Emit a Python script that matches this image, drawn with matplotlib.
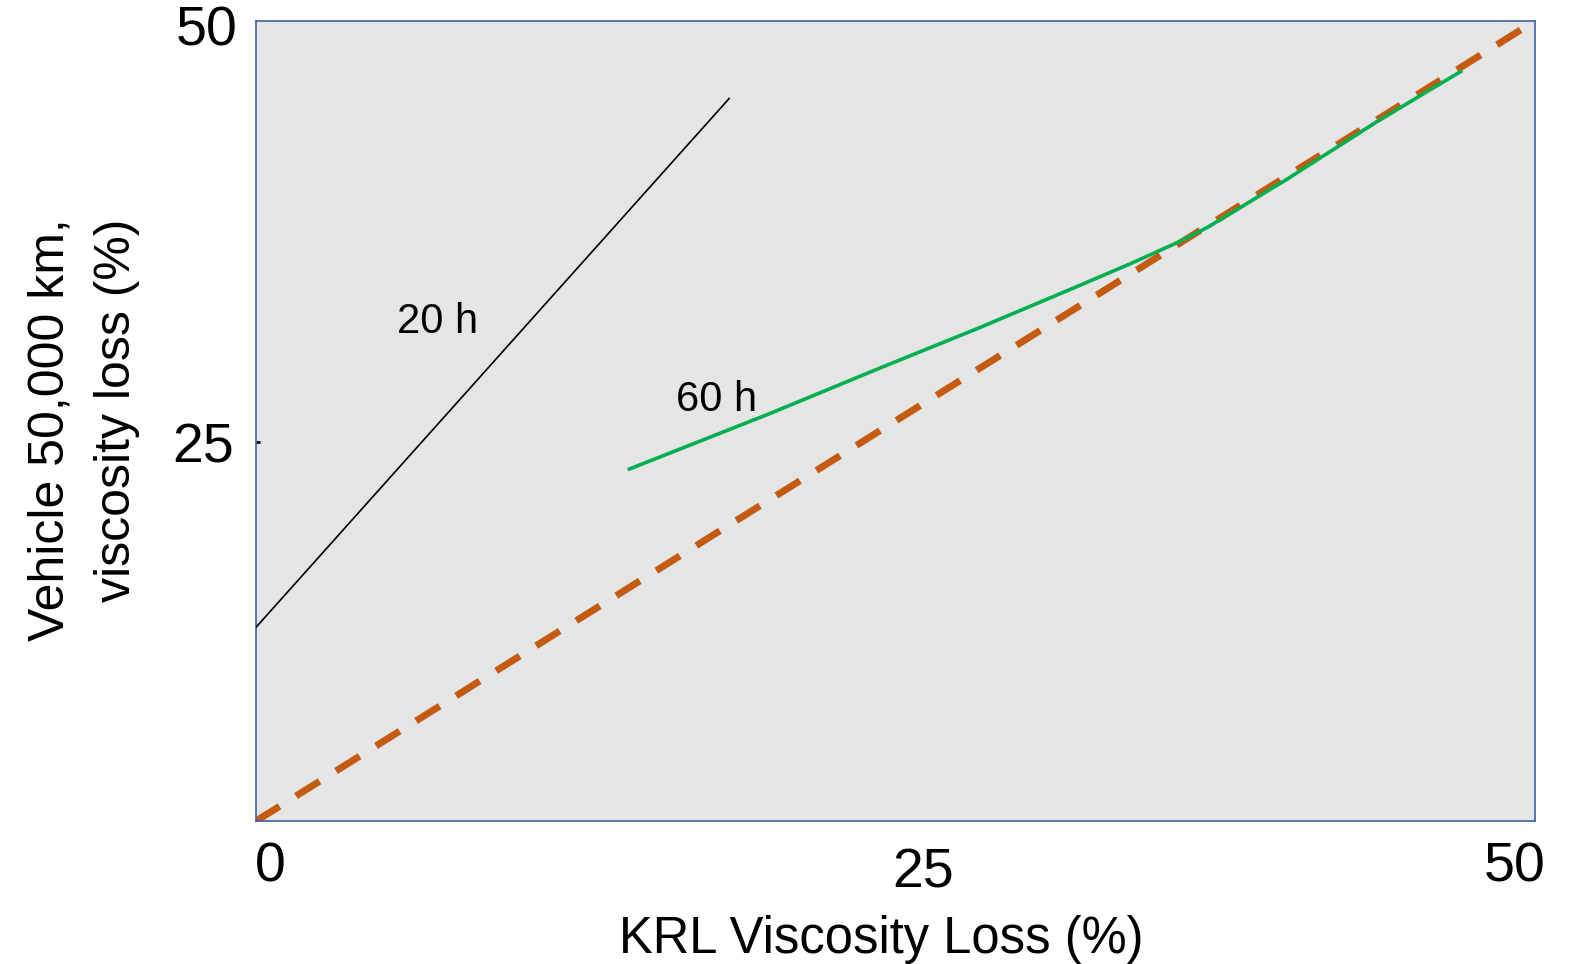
import numpy as np
import matplotlib
matplotlib.use("Agg")
import matplotlib.pyplot as plt
from matplotlib.transforms import ScaledTranslation

plt.rcParams['font.family'] = ['Liberation Sans', 'DejaVu Sans']

# data
line20_x = [0.0, 18.5]
line20_y = [14.0, 45.4]

line60_x = [14.6, 20.1, 24.4, 28.3, 32.2, 34.2, 36.1, 37.2, 38.4, 40.3, 43.9, 47.1]
line60_y = [23.4, 26.7, 29.4, 31.8, 34.3, 35.6, 36.9, 37.75, 38.85, 40.6, 44.1, 47.0]

ref_x = [0.0, 50.0]
ref_y = [2.5, 50.0]

xticks = [0, 25, 50]
yticks = [25, 50]
tick_labels_x = ['0', '25', '50']
tick_labels_y = ['25', '50']

fig = plt.figure(figsize=(15.78, 9.64), dpi=100)
ax = fig.add_axes([0.1622, 0.1483, 0.8105, 0.8299])
ax.set_facecolor('#E5E5E5')

ax.plot(ref_x, ref_y, color='#C55A11', lw=5, linestyle=(0, (4, 2.8)),
        dash_capstyle='butt', zorder=2)
ax.plot(line20_x, line20_y, color='black', lw=1.2, zorder=3)
ax.plot(line60_x, line60_y, color='#00B050', lw=2.6, zorder=4,
        solid_joinstyle='round')

ax.text(7.1, 32.1, '20 h', fontsize=30, ha='center', va='center')
ax.text(18.0, 27.5, '60 h', fontsize=30, ha='center', va='center')

ax.set_xlim(0, 50)
ax.set_ylim(2.5, 50)

ax.set_xticks(xticks)
ax.set_xticklabels(tick_labels_x, fontsize=40)
ax.set_yticks(yticks)
ax.set_yticklabels(tick_labels_y, fontsize=40)
ax.tick_params(axis='x', length=0, pad=15)
ax.tick_params(axis='y', direction='in', length=3, width=2, pad=13, color='black')
ax.yaxis.get_major_ticks()[1].tick1line.set_visible(False)

# nudge tick labels like in the original
x_off = [(14, 0), (28, -6), (-20, 0)]
for lab, (dx, dy) in zip(ax.get_xticklabels(), x_off):
    lab.set_transform(lab.get_transform() + ScaledTranslation(dx / 100, dy / 100, fig.dpi_scale_trans))
y_off = [(-4, 0), (0, -4)]
for lab, (dx, dy) in zip(ax.get_yticklabels(), y_off):
    lab.set_transform(lab.get_transform() + ScaledTranslation(dx / 100, dy / 100, fig.dpi_scale_trans))

for s in ax.spines.values():
    s.set_color('#41609F')
    s.set_linewidth(1.2)

ax.set_xlabel('KRL Viscosity Loss (%)', fontsize=36.5)
ax.xaxis.set_label_coords(0.489, -0.117)
ax.set_ylabel('Vehicle 50,000 km,\nviscosity loss (%)', fontsize=36,
              multialignment='right', linespacing=1.55)
ax.yaxis.set_label_coords(-0.091, 0.489)

fig.savefig('out.png', dpi=100)
